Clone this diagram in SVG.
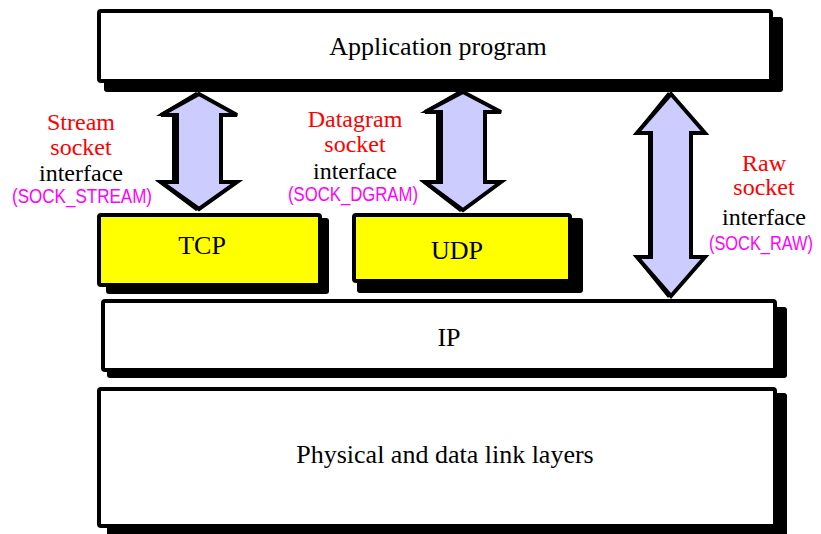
<svg xmlns="http://www.w3.org/2000/svg" width="821" height="534" viewBox="0 0 821 534">
  <style>
    .shadow { fill: #000; }
    .box { fill: #fff; stroke: #000; stroke-width: 4; }
    .proto { fill: #ffff00; stroke: #000; stroke-width: 4; }
    .label { font-family: "Liberation Serif", "Times New Roman", serif; font-size: 26px; fill: #000; text-anchor: middle; }
    .kind { font-family: "Liberation Serif", "Times New Roman", serif; font-size: 24px; fill: #ff0000; text-anchor: middle; }
    .iface { font-family: "Liberation Serif", "Times New Roman", serif; font-size: 24px; fill: #000; text-anchor: middle; }
    .const { font-family: "Liberation Sans", Arial, sans-serif; font-size: 21px; fill: #ff00ff; text-anchor: middle; }
    .arrow { fill: #ccccff; stroke: #000; stroke-width: 4; stroke-linejoin: miter; }
    .arrow-shadow { fill: #000; }
  </style>

  <g id="application">
    <rect class="shadow" x="104" y="17" width="679" height="75" rx="3"/>
    <rect class="box" x="99" y="11" width="672" height="70" rx="2"/>
    <text class="label" x="438" y="55">Application program</text>
  </g>

  <g id="tcp">
    <rect class="shadow" x="106" y="218" width="223" height="76" rx="3"/>
    <rect class="proto" x="99" y="215" width="221" height="70" rx="2"/>
    <text class="label" x="202" y="254">TCP</text>
  </g>

  <g id="udp">
    <rect class="shadow" x="357" y="218" width="226" height="75" rx="3"/>
    <rect class="proto" x="354" y="215" width="216" height="66" rx="2"/>
    <text class="label" x="457" y="259">UDP</text>
  </g>

  <g id="ip">
    <rect class="shadow" x="107" y="307" width="680" height="71" rx="3"/>
    <rect class="box" x="103" y="301" width="672" height="69" rx="2"/>
    <text class="label" x="449" y="346">IP</text>
  </g>

  <g id="physical">
    <rect class="shadow" x="107" y="393" width="680" height="150" rx="3"/>
    <rect class="box" x="99" y="389" width="676" height="137" rx="2"/>
    <text class="label" x="445" y="463">Physical and data link layers</text>
  </g>

  <g id="connectors">
    <!-- stream socket interface: application <-> TCP -->
    <path class="arrow-shadow" d="M196,92 L238,116 L218,116 L218,181 L238,181 L196,211 L156,181 L172,181 L172,116 L156,116 Z"/>
    <path class="arrow" d="M199,94 L237,115 L221,115 L221,182 L237,182 L199,209 L161,182 L177,182 L177,115 L161,115 Z"/>
    <!-- datagram socket interface: application <-> UDP -->
    <path class="arrow-shadow" d="M460,90 L502,113 L482,113 L482,181 L502,181 L460,212 L420,181 L436,181 L436,113 L420,113 Z"/>
    <path class="arrow" d="M463,92 L501,112 L485,112 L485,182 L501,182 L463,210 L425,182 L441,182 L441,112 L425,112 Z"/>
    <!-- raw socket interface: application <-> IP -->
    <path class="arrow-shadow" d="M668,92 L706,134 L688,134 L688,256 L706,256 L668,298 L634,256 L648,256 L648,134 L634,134 Z"/>
    <path class="arrow" d="M671,94 L705,133 L691,133 L691,257 L705,257 L671,296 L637,257 L651,257 L651,133 L637,133 Z"/>
  </g>

  <g id="stream-label">
    <text class="kind" x="81" y="130">Stream</text>
    <text class="kind" x="81" y="155">socket</text>
    <text class="iface" x="81" y="181">interface</text>
    <text class="const" x="82" y="203" textLength="140" lengthAdjust="spacingAndGlyphs">(SOCK_STREAM)</text>
  </g>

  <g id="datagram-label">
    <text class="kind" x="355" y="127">Datagram</text>
    <text class="kind" x="355" y="152">socket</text>
    <text class="iface" x="355" y="179">interface</text>
    <text class="const" x="353" y="201" textLength="130" lengthAdjust="spacingAndGlyphs">(SOCK_DGRAM)</text>
  </g>

  <g id="raw-label">
    <text class="kind" x="764" y="171">Raw</text>
    <text class="kind" x="764" y="195">socket</text>
    <text class="iface" x="764" y="225">interface</text>
    <text class="const" x="761" y="250" textLength="104" lengthAdjust="spacingAndGlyphs">(SOCK_RAW)</text>
  </g>
</svg>
